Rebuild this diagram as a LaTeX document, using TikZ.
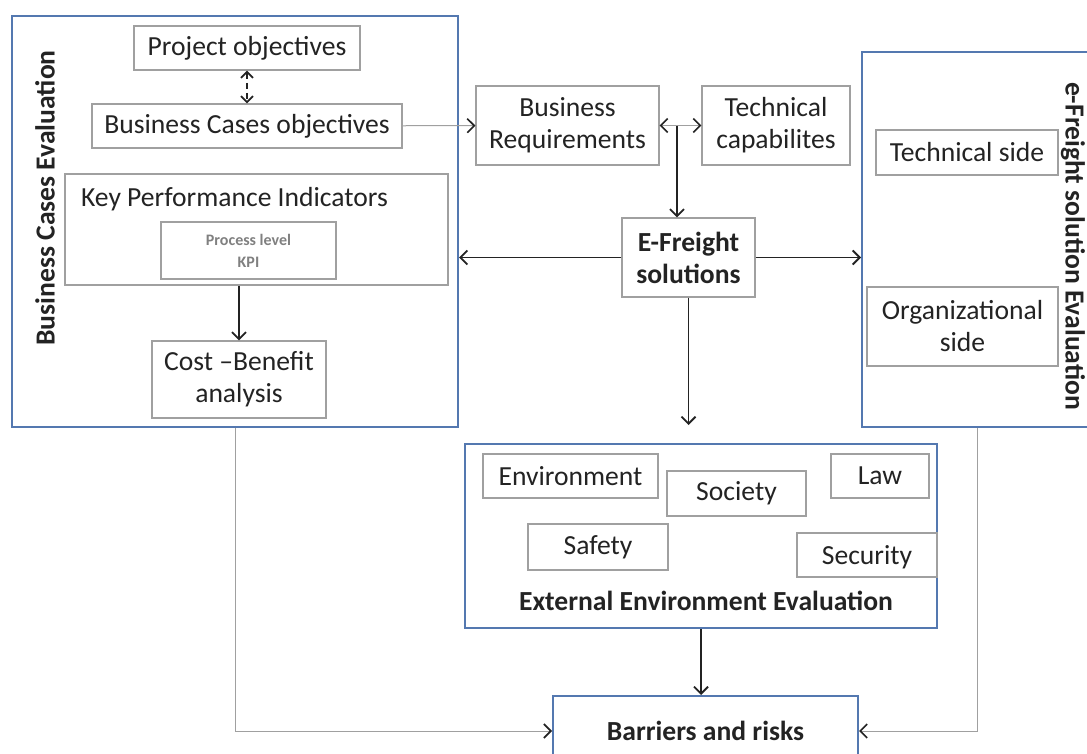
\documentclass[tikz,border=0pt]{standalone}
\usepackage{fontspec}
\setmainfont{Carlito}
\usepackage{tikz}
\usetikzlibrary{arrows.meta, calc, positioning}
\definecolor{frameblue}{RGB}{84,120,176}
\definecolor{boxgray}{RGB}{160,160,160}
\definecolor{ink}{RGB}{35,35,35}
\tikzstyle{block} = [rectangle, draw=boxgray, line width=0.6pt, text=ink, align=center, inner sep=0pt, font=\fontsize{13.8}{16}\selectfont]
\tikzstyle{frame} = [rectangle, draw=frameblue, line width=1pt, inner sep=0pt]
\tikzstyle{title} = [text=ink, inner sep=0pt, font=\bfseries\fontsize{13.8}{16}\selectfont]
\tikzstyle{line} = [draw, line width=0.9pt, ink, -{Straight Barb[length=3.5pt,width=7pt]}]
\tikzstyle{thin} = [draw, line width=0.5pt, boxgray, -{Straight Barb[length=3.5pt,width=7pt,color=ink,line width=0.8pt]}]

\begin{document}
\begin{tikzpicture}[x=0.5pt, y=-0.5pt]
        \useasboundingbox[fill=white] (0,0) rectangle (1087,754);

        \node[frame, minimum width=223pt, minimum height=205.5pt] (00) at (235,221.5) {};
        \node[title, rotate=90] at (45,198) {Business Cases Evaluation};

        \node[block, minimum width=113pt, minimum height=22pt] (01) at (247,48) {Project objectives};

        \node[block, minimum width=155pt, minimum height=22pt] (02) at (247,126) {Business Cases objectives};
        \path[line, densely dashed, {Straight Barb[length=3pt,width=6pt]}-{Straight Barb[length=3pt,width=6pt]}] (01) -- (02);

        \node[block, minimum width=191.5pt, minimum height=55.5pt] (03) at (256.5,229.5) {};
        \node[text=ink, anchor=west, font=\fontsize{13.8}{16}\selectfont] at (74,199) {Key Performance Indicators};

        \node[block, text=gray, minimum width=87.5pt, minimum height=28.5pt, font=\bfseries\fontsize{8}{11}\selectfont] (04) at (248.5,250.5) {Process level\\KPI};

        \node[block, minimum width=87pt, minimum height=38.5pt] (05) at (239,379.5) {Cost --Benefit\\analysis};
        \path[line] (05.north |- 03.south) -- (05.north);

        \node[block, minimum width=91.5pt, minimum height=39.5pt] (06) at (567.5,125.5) {Business\\Requirements};
        \path[thin] (02) -- (06);

        \node[block, minimum width=74pt, minimum height=39.5pt] (07) at (776,125.5) {Technical\\capabilites};
        \path[thin, {Straight Barb[length=3.5pt,width=7pt,color=ink,line width=0.8pt]}-{Straight Barb[length=3.5pt,width=7pt,color=ink,line width=0.8pt]}] (06) -- (07);

        \node[block, minimum width=66.5pt, minimum height=39.5pt, font=\bfseries\fontsize{13.8}{16}\selectfont] (08) at (688.5,257.5) {E-Freight\\solutions};
        \coordinate (09) at (677,126);
        \path[line] (09) -- (09 |- 08.north);
        \path[line] (08.west) -- (08.west -| 00.east);

        \node[frame, minimum width=115pt, minimum height=187.5pt] (10) at (977,239.5) {};
        \node[title, rotate=-90] at (1073,246) {e-Freight solution Evaluation};
        \path[line] (08.east) -- (08.east -| 10.west);

        \node[block, minimum width=91pt, minimum height=22.5pt] (11) at (967,152.5) {Technical side};

        \node[block, minimum width=95.5pt, minimum height=39.5pt] (12) at (962.5,326.5) {Organizational\\side};

        \node[frame, minimum width=236pt, minimum height=92pt] (13) at (701,536) {};
        \node[title] at (706,601) {External Environment Evaluation};
        \path[line, shorten >=9pt] (08.south) -- (08.south |- 13.north);

        \node[block, minimum width=87.5pt, minimum height=22pt] (14) at (570.5,476) {Environment};

        \node[block, minimum width=69.5pt, minimum height=22.5pt] (15) at (736.5,493.5) {Society};

        \node[block, minimum width=49pt, minimum height=22pt] (16) at (880,476) {Law};

        \node[block, minimum width=70pt, minimum height=23pt] (17) at (598,547) {Safety};

        \node[block, minimum width=70pt, minimum height=22pt, text depth=-4pt] (18) at (867,555) {Security};

        \node[frame, minimum width=152.5pt, minimum height=35pt, font=\bfseries\fontsize{13.8}{16}\selectfont, text=ink] (19) at (705.5,731) {Barriers and risks};
        \path[line] (13.south) -- (13.south |- 19.north);
        \path[thin] (00.south) |- (19.west);
        \path[thin] (10.south) |- (19.east);
    \end{tikzpicture}
\end{document}
